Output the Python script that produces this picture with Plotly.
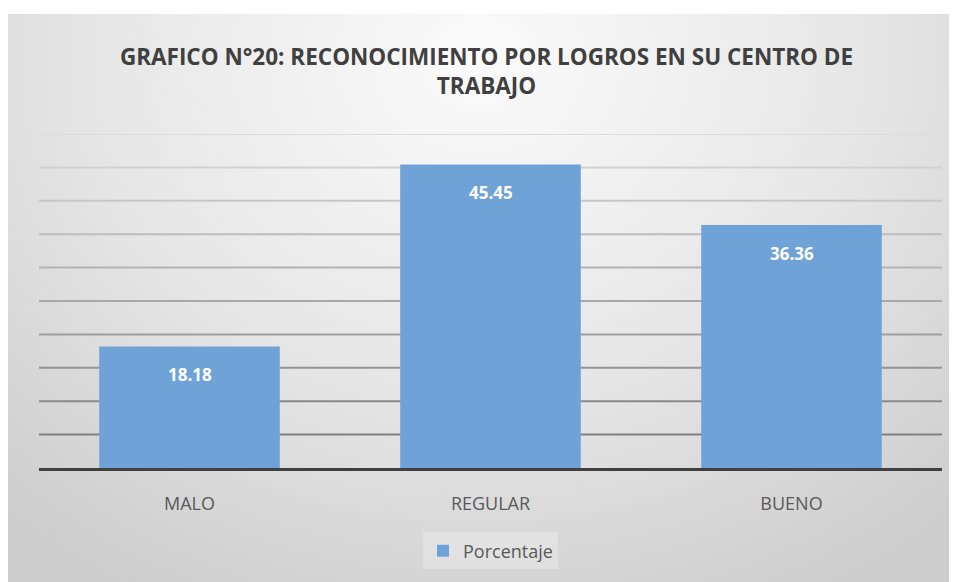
import base64
import plotly.graph_objects as go

categories = ["MALO", "REGULAR", "BUENO"]
values = [18.18, 45.45, 36.36]
series_name = "Porcentaje"
title_text = "GRAFICO N°20: RECONOCIMIENTO POR LOGROS EN SU CENTRO DE<br>TRABAJO"
grid_values = [5, 10, 15, 20, 25, 30, 35, 40, 45, 50]

BAR = "#6FA3D7"
FONT = "Open Sans, sans-serif"

svg = (
    '<svg xmlns="http://www.w3.org/2000/svg" width="942" height="576" preserveAspectRatio="none">'
    '<defs><radialGradient id="g" cx="50%" cy="8%" r="75%" gradientTransform="translate(0.5,0.08) scale(1,1.4) translate(-0.5,-0.08)">'
    '<stop offset="0%" stop-color="#fbfbfb"/><stop offset="55%" stop-color="#e6e6e6"/>'
    '<stop offset="100%" stop-color="#cdcdcd"/></radialGradient></defs>'
    '<rect width="942" height="576" fill="url(#g)"/></svg>'
)
src = "data:image/svg+xml;base64," + base64.b64encode(svg.encode()).decode()

fig = go.Figure()
fig.add_trace(go.Bar(x=categories, y=values, name=series_name, marker_color=BAR,
                     marker_line_width=0, showlegend=True))

for v, c in zip(values, categories):
    fig.add_annotation(x=c, y=v, text=f"<b>{v:.2f}</b>", showarrow=False, yshift=-28,
                       font=dict(color="white", size=17, family=FONT))

n = len(grid_values)
for i, g in enumerate(grid_values):
    t = i / (n - 1)
    lv = int(0x80 + t * (0xdc - 0x80))
    col = f"rgb({lv},{lv},{lv})"
    fig.add_shape(type="line", xref="paper", yref="y", x0=0, x1=1, y0=g, y1=g,
                  line=dict(color=col, width=2), layer="below")

fig.update_layout(
    width=957, height=582,
    margin=dict(l=31, r=23, t=126, b=122),
    paper_bgcolor="white", plot_bgcolor="rgba(0,0,0,0)",
    bargap=0.4,
    title=dict(text=f"<b>{title_text}</b>", x=0.5, xanchor="center", y=0.902, yanchor="middle",
               font=dict(size=22.5, color="#404040", family=FONT)),
    images=[dict(source=src, xref="paper", yref="paper", x=-31/903, y=1 + 120/334,
                 sizex=942/903, sizey=576/334, xanchor="left", yanchor="top",
                 sizing="stretch", layer="below")],
    legend=dict(orientation="h", x=0.5, xanchor="center", y=-0.2485, yanchor="middle",
                bgcolor="rgba(255,255,255,0.25)", font=dict(size=18, color="#595959", family=FONT),
                itemwidth=30),
    xaxis=dict(showline=True, linecolor="#404040", linewidth=3, ticks="",
               tickfont=dict(size=18, color="#595959", family=FONT), ticklabelstandoff=17),
    yaxis=dict(range=[0, 50], showgrid=False, showticklabels=False, zeroline=False),
)

fig.write_html("out.html")
